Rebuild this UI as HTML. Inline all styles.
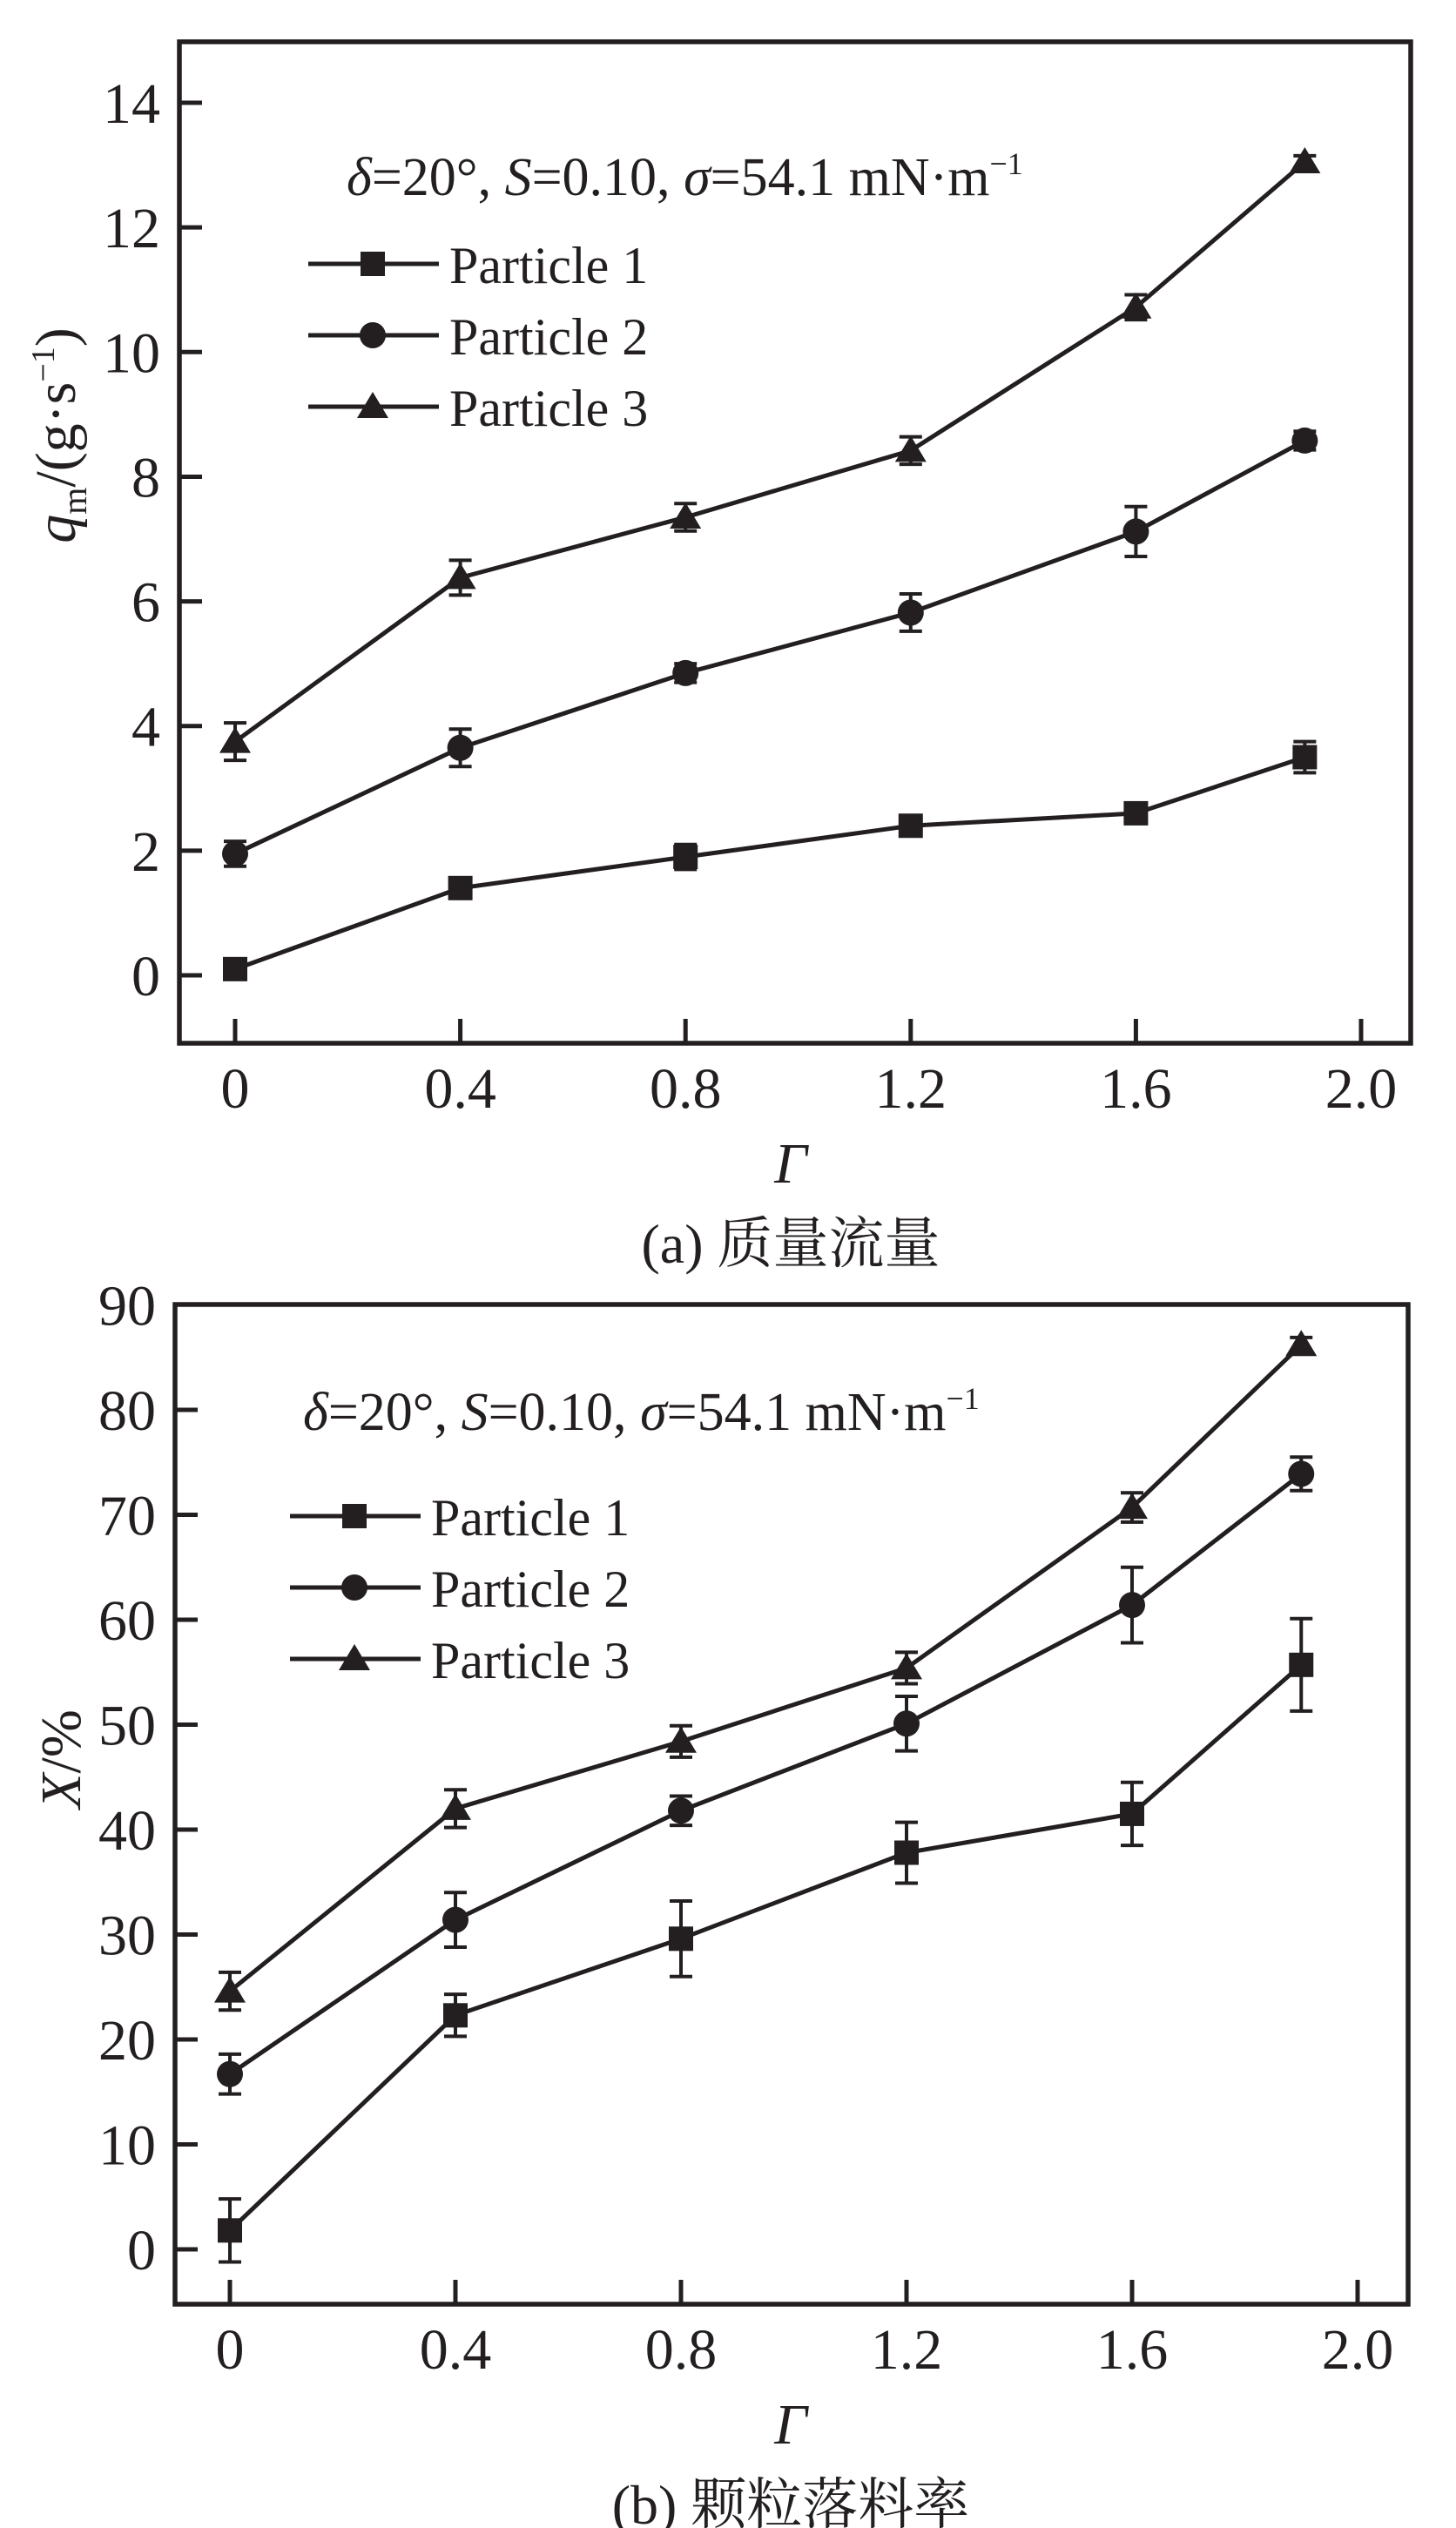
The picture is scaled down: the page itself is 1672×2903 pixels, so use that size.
<!DOCTYPE html>
<html><head><meta charset="utf-8"><style>
html,body{margin:0;padding:0;background:#fff;}
svg{display:block;}
text{font-family:"Liberation Serif","Noto Serif CJK SC",serif;fill:#231f20;}
</style></head><body>
<svg id="fig" width="1672" height="2903" viewBox="0 0 1672 2903" xmlns="http://www.w3.org/2000/svg"></svg>
<script>
// Shared x categories
const gammaValues = [0, 0.4, 0.8, 1.2, 1.6, 1.9];
const xTickValues = [0, 0.4, 0.8, 1.2, 1.6, 2.0];
const xTickLabels = ["0", "0.4", "0.8", "1.2", "1.6", "2.0"];
const seriesNames = ["Particle 1", "Particle 2", "Particle 3"];

// Chart (a) mass flow
const aP1 = [0.1, 1.4, 1.9, 2.4, 2.6, 3.5];
const aP1Err = [0.05, 0.1, 0.2, 0.1, 0.1, 0.25];
const aP2 = [1.95, 3.65, 4.85, 5.82, 7.12, 8.58];
const aP2Err = [0.2, 0.3, 0.15, 0.3, 0.4, 0.15];
const aP3 = [3.75, 6.38, 7.35, 8.42, 10.72, 13.05];
const aP3Err = [0.3, 0.28, 0.22, 0.22, 0.2, 0.1];
const aYTicks = [0, 2, 4, 6, 8, 10, 12, 14];

// Chart (b) drop rate
const bP1 = [1.8, 22.3, 29.6, 37.8, 41.5, 55.7];
const bP1Err = [3.0, 2.0, 3.6, 2.9, 3.0, 4.4];
const bP2 = [16.7, 31.4, 41.8, 50.1, 61.4, 73.9];
const bP2Err = [1.9, 2.6, 1.4, 2.6, 3.6, 1.6];
const bP3 = [24.6, 42.0, 48.4, 55.4, 70.7, 86.2];
const bP3Err = [1.8, 1.8, 1.5, 1.5, 1.4, 0.7];
const bYTicks = [0, 10, 20, 30, 40, 50, 60, 70, 80, 90];

const NS = "http://www.w3.org/2000/svg";
const svg = document.getElementById("fig");
const INK = "#231f20";
function mk(tag, attrs, parent) {
  const e = document.createElementNS(NS, tag);
  for (const k in attrs) e.setAttribute(k, attrs[k]);
  (parent || svg).appendChild(e);
  return e;
}

function marker(g, kind, cx, cy) {
  let m;
  if (kind === 0) m = mk("rect", {x: cx - 14, y: cy - 14, width: 28, height: 28, fill: INK}, g);
  else if (kind === 1) m = mk("circle", {cx: cx, cy: cy, r: 15, fill: INK}, g);
  else m = mk("polygon", {points: (cx) + "," + (cy - 17) + " " + (cx + 18) + "," + (cy + 13) + " " + (cx - 18) + "," + (cy + 13), fill: INK}, g);
  
  
  return m;
}

function drawChart(cfg) {
  const g = mk("g", {});
  
  
  const xs = v => cfg.x0 + (v - 0) * cfg.xUnit;
  const ys = v => cfg.y0 - (v - cfg.yMin) * cfg.yUnit;

  const frame = mk("rect", {x: cfg.L, y: cfg.T, width: cfg.R - cfg.L, height: cfg.B - cfg.T, fill: "none", stroke: INK, "stroke-width": 5.5}, g);
  
  

  cfg.yTicks.forEach(v => {
    const y = ys(v);
    if (y > cfg.T + 5) {
      const t = mk("line", {x1: cfg.L, x2: cfg.L + 26, y1: y, y2: y, stroke: INK, "stroke-width": 5}, g);
      
      
    }
    const lb = mk("text", {x: cfg.L - 22, y: y + 23, "text-anchor": "end", "font-size": 66}, g);
    lb.textContent = String(v);
    
    
  });
  xTickValues.forEach((v, i) => {
    const x = xs(v);
    const t = mk("line", {x1: x, x2: x, y1: cfg.B, y2: cfg.B - 28, stroke: INK, "stroke-width": 5}, g);
    
    
    const lb = mk("text", {x: x, y: cfg.B + 74, "text-anchor": "middle", "font-size": 66}, g);
    lb.textContent = xTickLabels[i];
    
    
  });

  cfg.series.forEach((s, k) => {
    const sg = mk("g", {}, g);
    
    
    const pts = s.vals.map((v, i) => xs(gammaValues[i]) + "," + ys(v)).join(" ");
    const pl = mk("polyline", {points: pts, fill: "none", stroke: INK, "stroke-width": 5}, sg);
    
    
    s.vals.forEach((v, i) => {
      const x = xs(gammaValues[i]);
      const yt = ys(v + s.err[i]), yb = ys(v - s.err[i]);
      const eb = mk("path", {d: "M" + x + "," + yt + "V" + yb + "M" + (x - 13) + "," + yt + "H" + (x + 13) + "M" + (x - 13) + "," + yb + "H" + (x + 13), stroke: INK, "stroke-width": 4, fill: "none"}, sg);
      
      
      marker(sg, k, x, ys(v));
    });
  });

  const an = mk("text", {x: cfg.annX, y: cfg.annY, "font-size": 62}, g);
  
  
  an.innerHTML = '<tspan font-style="italic">δ</tspan>=20°, <tspan font-style="italic">S</tspan>=0.10, <tspan font-style="italic">σ</tspan>=54.1 mN·m<tspan font-size="36" dy="-24">−1</tspan>';

  seriesNames.forEach((n, k) => {
    const ly = cfg.legY + k * 82;
    const lg = mk("g", {}, g);
    
    
    mk("line", {x1: cfg.legX, x2: cfg.legX + 150, y1: ly, y2: ly, stroke: INK, "stroke-width": 5}, lg);
    marker(lg, k, cfg.legX + 74, ly);
    const t = mk("text", {x: cfg.legX + 162, y: ly + 22, "font-size": 60}, lg);
    t.textContent = n;
  });

  const yt = mk("text", {transform: "translate(" + cfg.yTitleX + "," + cfg.yTitleY + ") rotate(-90)", "text-anchor": "middle", "font-size": 66}, g);
  
  
  yt.innerHTML = cfg.yTitle;
  const xt = mk("text", {x: 908, y: cfg.B + 160, "text-anchor": "middle", "font-size": 66, "font-style": "italic"}, g);
  xt.textContent = "Γ";
  
  
  const cap = mk("text", {x: 908, y: cfg.B + 252, "text-anchor": "middle", "font-size": 64}, g);
  cap.textContent = cfg.caption;
  
  
}

drawChart({
  name: "chart-a-mass-flow", L: 206, R: 1620, T: 48, B: 1198,
  x0: 270, xUnit: 646.5, y0: 1120, yMin: 0, yUnit: 71.57,
  yTicks: aYTicks,
  series: [{vals: aP1, err: aP1Err}, {vals: aP2, err: aP2Err}, {vals: aP3, err: aP3Err}],
  annX: 398, annY: 224, legX: 354, legY: 303,
  yTitleX: 86, yTitleY: 500,
  yTitle: '<tspan font-style="italic">q</tspan><tspan font-size="40" dy="13">m</tspan><tspan dy="-13">/(g·s</tspan><tspan font-size="38" dy="-24">−1</tspan><tspan dy="24">)</tspan>',
  caption: "(a) 质量流量"
});
drawChart({
  name: "chart-b-drop-rate", L: 201, R: 1617, T: 1498, B: 2646,
  x0: 264, xUnit: 647.5, y0: 2583, yMin: 0, yUnit: 12.05,
  yTicks: bYTicks,
  series: [{vals: bP1, err: bP1Err}, {vals: bP2, err: bP2Err}, {vals: bP3, err: bP3Err}],
  annX: 348, annY: 1642, legX: 333, legY: 1741,
  yTitleX: 92, yTitleY: 2020,
  yTitle: '<tspan font-style="italic">X</tspan>/%',
  caption: "(b) 颗粒落料率"
});
</script>
</body></html>
